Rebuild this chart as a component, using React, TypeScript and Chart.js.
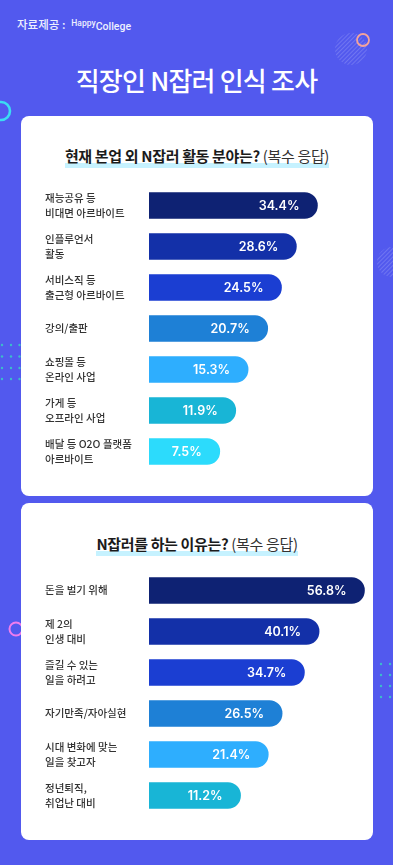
import React, { useEffect, useRef } from "react";
import { Chart, registerables } from "chart.js";

Chart.register(...registerables);

// ---------- data ----------
const fieldLabels: string[][] = [
  ["재능공유 등", "비대면 아르바이트"],
  ["인플루언서", "활동"],
  ["서비스직 등", "출근형 아르바이트"],
  ["강의/출판"],
  ["쇼핑몰 등", "온라인 사업"],
  ["가게 등", "오프라인 사업"],
  ["배달 등 O2O 플랫폼", "아르바이트"],
];
const fieldValues = [34.4, 28.6, 24.5, 20.7, 15.3, 11.9, 7.5];

const reasonLabels: string[][] = [
  ["돈을 벌기 위해"],
  ["제 2의", "인생 대비"],
  ["즐길 수 있는", "일을 하려고"],
  ["자기만족/자아실현"],
  ["시대 변화에 맞는", "일을 찾고자"],
  ["정년퇴직,", "취업난 대비"],
];
const reasonValues = [56.8, 40.1, 34.7, 26.5, 21.4, 11.2];

const barColors = ["#0E2273", "#1330A8", "#1B3ED2", "#1E80D6", "#2EAEFE", "#18B5D6", "#2CDBFC"];

const KR = "'Noto Sans CJK KR', 'Noto Sans', sans-serif";

const valueLabelPlugin = {
  id: "valueLabels",
  afterDatasetsDraw(chart: any) {
    const ctx = chart.ctx;
    const meta = chart.getDatasetMeta(0);
    const data = chart.data.datasets[0].data as number[];
    ctx.save();
    ctx.fillStyle = "#ffffff";
    ctx.font = "600 12.5px Inter, 'Noto Sans', sans-serif";
    ctx.textAlign = "right";
    ctx.textBaseline = "middle";
    meta.data.forEach((bar: any, i: number) => {
      ctx.fillText(`${data[i].toFixed(1)}%`, bar.x - 18, bar.y + 0.5);
    });
    ctx.restore();
  },
};

function BarChart(props: { labels: string[][]; values: number[]; min: number; max: number; top: number; height: number }) {
  const ref = useRef<HTMLCanvasElement>(null);
  const { labels, values, min, max, top, height } = props;
  useEffect(() => {
    const chart = new Chart(ref.current as HTMLCanvasElement, {
      type: "bar",
      data: {
        labels,
        datasets: [
          {
            data: values,
            backgroundColor: barColors.slice(0, values.length),
            base: min,
            barThickness: 26,
            borderRadius: 13,
            borderSkipped: "start",
          } as any,
        ],
      },
      options: {
        indexAxis: "y",
        responsive: false,
        maintainAspectRatio: false,
        animation: false,
        layout: { padding: 0 },
        plugins: { legend: { display: false }, tooltip: { enabled: false } },
        scales: {
          x: { display: false, min, max },
          y: {
            grid: { display: false },
            border: { display: false },
            ticks: {
              crossAlign: "far",
              color: "#333333",
              autoSkip: false,
              padding: 0,
              font: { family: KR, size: 10.5, weight: 500 as any, lineHeight: 1.43 },
            },
            afterFit: (s: any) => {
              s.width = 104;
              s.paddingTop = 0;
              s.paddingBottom = 0;
            },
          },
        },
      } as any,
      plugins: [valueLabelPlugin],
    });
    return () => chart.destroy();
  }, []);
  return (
    <canvas
      ref={ref}
      width={320}
      height={height}
      style={{ position: "absolute", left: 45, top, width: 320, height }}
    />
  );
}

function Hatched({ cx, cy, r, id }: { cx: number; cy: number; r: number; id: string }) {
  return (
    <svg width={393} height={865} style={{ position: "absolute", left: 0, top: 0, pointerEvents: "none" }}>
      <defs>
        <pattern id={id} width="3" height="3" patternUnits="userSpaceOnUse" patternTransform="rotate(45)">
          <line x1="0" y1="0" x2="0" y2="3" stroke="rgba(255,255,255,0.28)" strokeWidth="1.2" />
        </pattern>
      </defs>
      <circle cx={cx} cy={cy} r={r} fill={`url(#${id})`} />
    </svg>
  );
}

function Dots({ xs, ys }: { xs: number[]; ys: number[] }) {
  return (
    <svg width={393} height={865} style={{ position: "absolute", left: 0, top: 0, pointerEvents: "none" }}>
      {ys.map((y) => xs.map((x) => <circle key={`${x}-${y}`} cx={x} cy={y} r={1.2} fill="#3BBDCB" />))}
    </svg>
  );
}

const titleBand = "linear-gradient(to top, #C6F2FF 0px, #C6F2FF 5px, transparent 5px)";

export default function App() {
  return (
    <div
      style={{
        position: "absolute",
        left: 0,
        top: 0,
        width: 393,
        height: 865,
        overflow: "hidden",
        background: "#5259EE",
        fontFamily: KR,
      }}
    >
      {/* decorations behind cards */}
      <Hatched cx={351} cy={49} r={16} id="h1" />
      <Hatched cx={392} cy={262} r={15} id="h2" />
      <svg width={393} height={865} style={{ position: "absolute", left: 0, top: 0 }}>
        <circle cx={363} cy={40} r={6} fill="none" stroke="#F4A39C" strokeWidth={1.8} />
        <circle cx={1} cy={111} r={9} fill="none" stroke="#3BDDF3" strokeWidth={2.6} />
        <circle cx={16} cy={629} r={6.5} fill="none" stroke="#F07DEE" strokeWidth={2} />
      </svg>
      <Dots xs={[2, 11, 19.5]} ys={[345, 356.5, 368, 379]} />
      <Dots xs={[381, 390]} ys={[664, 675, 686, 697]} />

      {/* header */}
      <div style={{ position: "absolute", left: 17, top: 15, color: "#EEF0FF", fontSize: 11.5, fontWeight: 500, lineHeight: "18px", whiteSpace: "nowrap" }}>
        자료제공 :
        <span style={{ fontFamily: "Roboto, sans-serif", fontSize: 8.5, position: "relative", top: -3, marginLeft: 6, fontWeight: 500 }}>Happy</span>
        <span style={{ fontFamily: "Roboto, sans-serif", fontSize: 10.5, position: "relative", top: 1, fontWeight: 500 }}>College</span>
      </div>
      <div
        style={{
          position: "absolute",
          left: 0,
          width: 393,
          top: 64,
          textAlign: "center",
          color: "#ffffff",
          fontSize: 26,
          lineHeight: "32px",
          fontWeight: 500,
          letterSpacing: -0.8,
        }}
      >
        직장인 N잡러 인식 조사
      </div>

      {/* card 1 */}
      <div style={{ position: "absolute", left: 21, top: 116, width: 352, height: 380, background: "#fff", borderRadius: 8 }} />
      <div style={{ position: "absolute", left: 21, width: 352, top: 145, textAlign: "center", lineHeight: "20px" }}>
        <span
          style={{
            display: "inline-block",
            paddingBottom: 2,
            background: titleBand,
            fontSize: 15,
            letterSpacing: -0.35,
            color: "#1b1b1b",
            whiteSpace: "nowrap",
          }}
        >
          <b style={{ fontWeight: 700 }}>현재 본업 외 N잡러 활동 분야는?</b>{" "}
          <span style={{ fontWeight: 400, color: "#333" }}>(복수 응답)</span>
        </span>
      </div>
      <BarChart labels={fieldLabels} values={fieldValues} min={-12} max={47.5} top={185} height={287} />

      {/* card 2 */}
      <div style={{ position: "absolute", left: 21, top: 503, width: 352, height: 337, background: "#fff", borderRadius: 8 }} />
      <div style={{ position: "absolute", left: 21, width: 352, top: 533, textAlign: "center", lineHeight: "20px" }}>
        <span
          style={{
            display: "inline-block",
            paddingBottom: 2,
            background: titleBand,
            fontSize: 15,
            letterSpacing: -0.35,
            color: "#1b1b1b",
            whiteSpace: "nowrap",
          }}
        >
          <b style={{ fontWeight: 700 }}>N잡러를 하는 이유는?</b>{" "}
          <span style={{ fontWeight: 400, color: "#333" }}>(복수 응답)</span>
        </span>
      </div>
      <BarChart labels={reasonLabels} values={reasonValues} min={-22.5} max={57} top={570} height={246} />
    </div>
  );
}
